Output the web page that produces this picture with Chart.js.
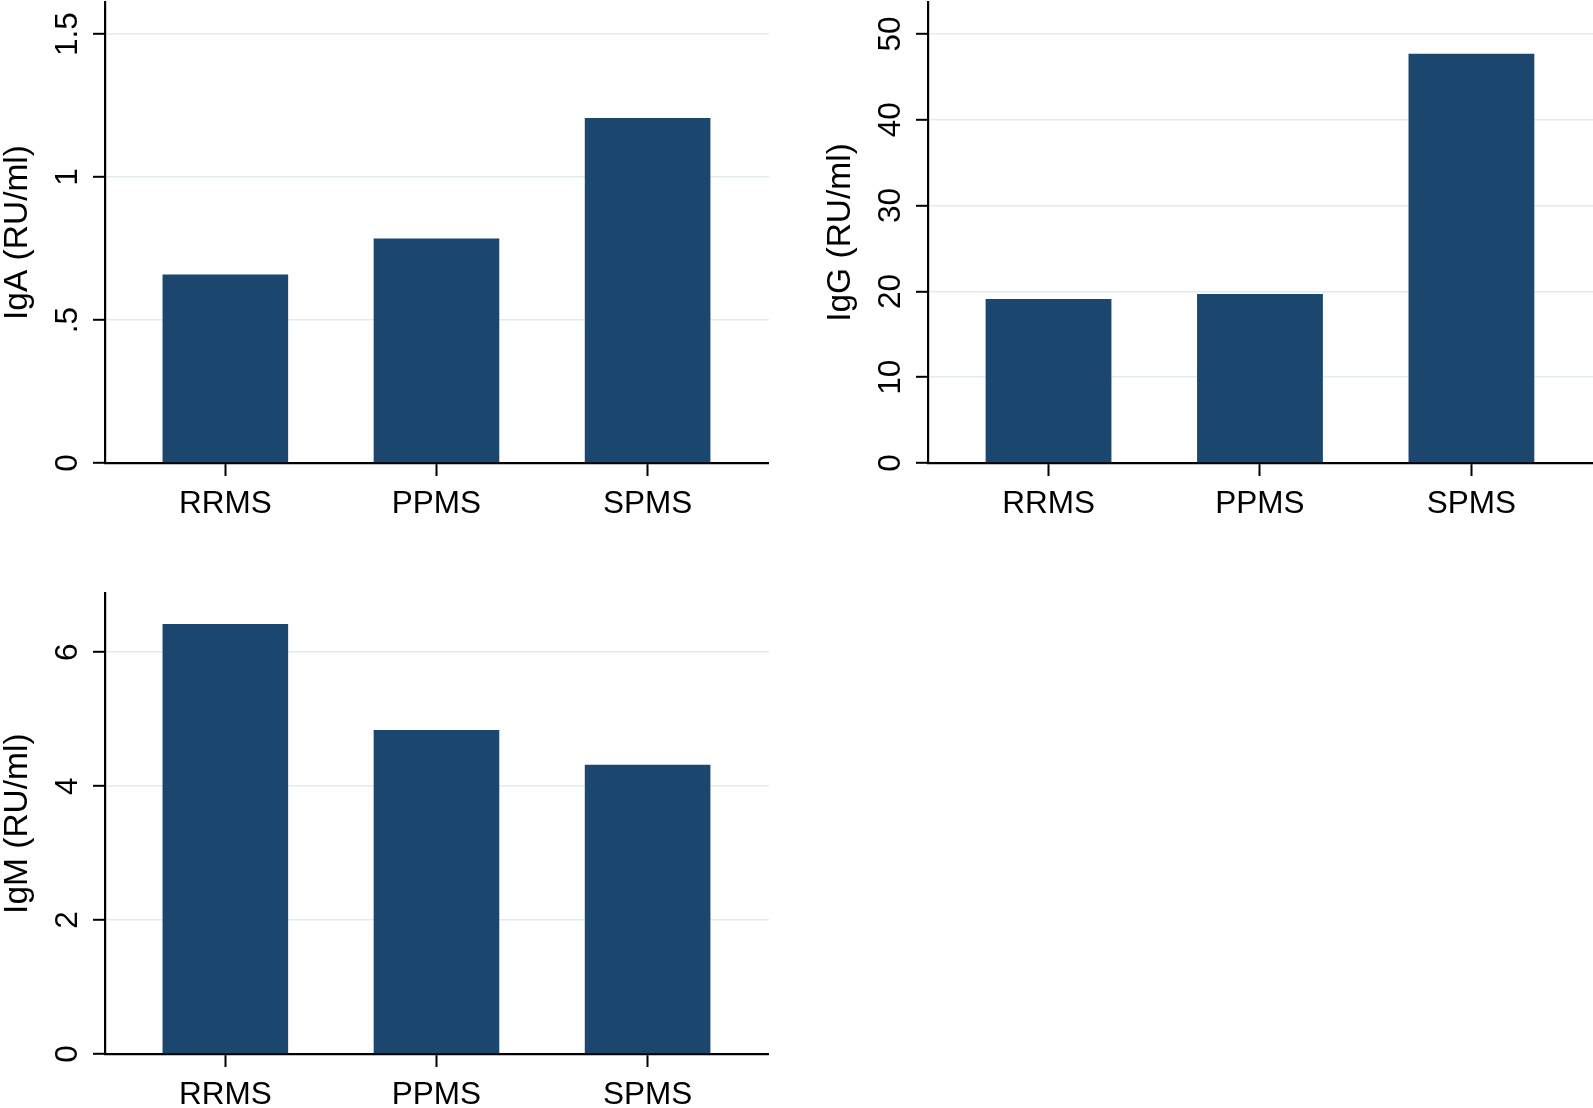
<!DOCTYPE html>
<html>
<head>
<meta charset="utf-8">
<script src="https://cdn.jsdelivr.net/npm/chart.js@4/dist/chart.umd.min.js"></script>
<style>
html, body { margin: 0; padding: 0; background: #ffffff; overflow: hidden; width: 1593px; height: 1108px; }
.box { position: absolute; }
</style>
</head>
<body>
<div class="box" style="left:0px; top:0px; width:769px; height:530px;"><canvas id="c1"></canvas></div>
<div class="box" style="left:823px; top:0px; width:770px; height:530px;"><canvas id="c2"></canvas></div>
<div class="box" style="left:0px; top:591px; width:769px; height:530px;"><canvas id="c3"></canvas></div>
<script>
// ---- data ----
const categories = ['RRMS', 'PPMS', 'SPMS'];

const igaValues = [0.659, 0.785, 1.206];
const iggValues = [19.1, 19.7, 47.7];
const igmValues = [6.42, 4.84, 4.32];

const igaTicks = [0, 0.5, 1, 1.5];
const igaTickLabels = ['0', '.5', '1', '1.5'];
const iggTicks = [0, 10, 20, 30, 40, 50];
const iggTickLabels = ['0', '10', '20', '30', '40', '50'];
const igmTicks = [0, 2, 4, 6];
const igmTickLabels = ['0', '2', '4', '6'];

const igaMax = 1.612;
const iggMax = 53.73;
const igmMax = 6.88;

// ---- styling ----
const FAMILY = '"Liberation Sans", Arial, Helvetica, sans-serif';
const TICK_SIZE = 31.5;
const TITLE_SIZE = 33.5;
const BAR_COLOR = '#1b476f';
const GRID_COLOR = '#e2edf1';

function textWidth(text, size) {
  const ctx = document.createElement('canvas').getContext('2d');
  ctx.font = size + 'px ' + FAMILY;
  return ctx.measureText(text).width;
}

function makeChart(id, values, tickVals, tickLabels, yMax, title, topPad) {
  const widest = Math.max(...tickLabels.map(t => textWidth(t, TICK_SIZE)));
  const yTickLen = 12;
  const yPad = 36.5 - yTickLen - widest / 2;
  return new Chart(document.getElementById(id), {
    type: 'bar',
    data: {
      datasets: [{
        data: values.map((v, i) => ({ x: i, y: v })),
        backgroundColor: BAR_COLOR,
        borderWidth: 0,
        barPercentage: 0.595,
        categoryPercentage: 1
      }]
    },
    options: {
      responsive: true,
      maintainAspectRatio: false,
      animation: false,
      layout: { padding: { top: topPad, left: 0, right: 0, bottom: 0 } },
      plugins: { legend: { display: false }, tooltip: { enabled: false } },
      scales: {
        x: {
          type: 'linear',
          min: -0.57,
          max: 2.575,
          offset: false,
          afterBuildTicks: s => { s.ticks = categories.map((c, i) => ({ value: i })); },
          afterFit: s => { s.height = 67; s.paddingLeft = 0; s.paddingRight = 0; },
          ticks: {
            font: { family: FAMILY, size: TICK_SIZE, lineHeight: 1 },
            color: '#000000',
            padding: 13,
            minRotation: 0,
            maxRotation: 0,
            autoSkip: false,
            callback: (v, i) => categories[i]
          },
          grid: { display: true, drawOnChartArea: false, offset: false, tickColor: '#000000', tickWidth: 2, tickLength: 13 },
          border: { display: true, color: '#000000', width: 2.2 }
        },
        y: {
          type: 'linear',
          min: 0,
          max: yMax,
          afterBuildTicks: s => { s.ticks = tickVals.map(v => ({ value: v })); },
          afterFit: s => { s.width = 105; s.paddingTop = 0; s.paddingBottom = 0; },
          ticks: {
            font: { family: FAMILY, size: TICK_SIZE, lineHeight: 1 },
            color: '#000000',
            minRotation: 90,
            maxRotation: 90,
            crossAlign: 'center',
            padding: yPad,
            callback: (v, i) => tickLabels[i]
          },
          grid: { color: GRID_COLOR, lineWidth: 1.6, tickColor: '#000000', tickWidth: 2, tickLength: yTickLen },
          border: { display: true, color: '#000000', width: 2.2 },
          title: {
            display: true,
            text: title,
            color: '#000000',
            font: { family: FAMILY, size: TITLE_SIZE, lineHeight: 1 },
            padding: { top: 1.5, bottom: 0 }
          }
        }
      }
    }
  });
}

makeChart('c1', igaValues, igaTicks, igaTickLabels, igaMax, 'IgA (RU/ml)', 2);
makeChart('c2', iggValues, iggTicks, iggTickLabels, iggMax, 'IgG (RU/ml)', 2);
makeChart('c3', igmValues, igmTicks, igmTickLabels, igmMax, 'IgM (RU/ml)', 2.3);
</script>
</body>
</html>
